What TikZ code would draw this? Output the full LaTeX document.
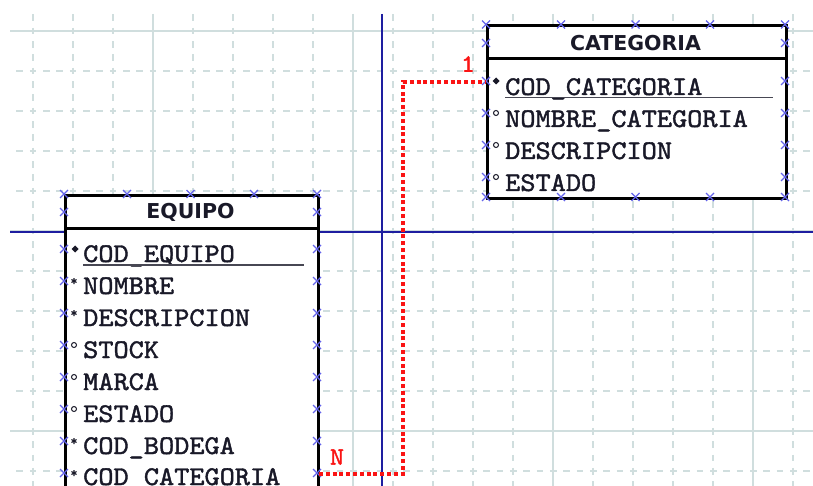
\documentclass[tikz,border=0pt]{standalone}
\usepackage{fontspec}
\newfontfamily\atrfont{lmmono10-regular.otf}[FakeStretch=1.07,FakeBold=1.5]
\newfontfamily\titfont{DejaVu Sans}
\definecolor{rejilla}{RGB}{208, 222, 222}
\definecolor{azulej}{RGB}{30, 30, 160}
\definecolor{azulx}{RGB}{100, 100, 235}
\definecolor{rojorel}{RGB}{250, 20, 20}
\definecolor{tinta}{RGB}{25, 25, 40}
\usepackage{tikz}

\begin{document}
\begin{tikzpicture}[x=1pt, y=-1pt,
    entidad/.style={draw=black, line width=3pt, fill=white, anchor=north west, inner sep=0pt},
    titulo/.style={font=\titfont\bfseries\fontsize{20.5}{22}\selectfont, text=tinta, inner sep=0pt},
    atrib/.style={font=\atrfont\fontsize{27}{29}\selectfont, text=tinta, anchor=base west, inner sep=0pt},
    card/.style={font=\atrfont\fontsize{25}{27}\selectfont, text=rojorel, inner sep=0pt},
    lineagrid/.style={rejilla, line width=1.3pt, dash pattern=on 6.67pt off 6.67pt},
    ejes/.style={azulej, line width=2pt},
    relacion/.style={rojorel, line width=4pt, dash pattern=on 4pt off 2.8pt},
    subraya/.style={tinta!80, line width=1.3pt},
    marca/.pic={\draw[azulx, line width=1.1pt] (-4,-4) -- (4,4) (-4,4) -- (4,-4);},
    llave/.pic={\fill[tinta] (-3.5,0) -- (0,-3.5) -- (3.5,0) -- (0,3.5) -- cycle;},
    oblig/.pic={\draw[tinta, line width=1.1pt] (0,-3) -- (0,3) (-2.6,-1.5) -- (2.6,1.5) (-2.6,1.5) -- (2.6,-1.5);},
    opcion/.pic={\draw[tinta, line width=1pt] (0,0) circle (2.5);}]
        \useasboundingbox (0,0) rectangle (813,486);
        \clip (0,0) rectangle (813,486);
        % rejilla
        \foreach \gx in {33,73,...,793}
          \draw[lineagrid, dash phase=13pt] (\gx,14) -- (\gx,486);
        \foreach \gy in {31,71,...,471}
          \draw[lineagrid, dash phase=7pt] (10,\gy) -- (813,\gy);
        \foreach \gx in {153,353,553,753}
          \draw[rejilla, line width=1.3pt] (\gx,14) -- (\gx,486);
        \foreach \gy in {31,231,431}
          \draw[rejilla, line width=1.3pt] (10,\gy) -- (813,\gy);
        \draw[ejes] (382,14) -- (382,486);
        \draw[ejes] (10,232) -- (813,232);
        % CATEGORIA
        \node[entidad, minimum width=299pt, minimum height=172.5pt] (categoria) at (486,24.5) {};
        \draw[black, line width=3pt] ([yshift=-34.5pt]categoria.north west) -- ([yshift=-34.5pt]categoria.north east);
        \node[titulo] (cattit) at (635.5,43) {CATEGORIA};
        \node[atrib] (cat1) at (505,95) {COD\_CATEGORIA};
        \node[atrib] (cat2) at (505,127) {NOMBRE\_CATEGORIA};
        \node[atrib] (cat3) at (505,159) {DESCRIPCION};
        \node[atrib] (cat4) at (505,191) {ESTADO};
        \draw[subraya] ([yshift=-2.5pt]cat1.base west) -- ++(268,0);
        \pic at (496,81) {llave};
        \foreach \py in {113,145,177} \pic at (496,\py) {opcion};
        % EQUIPO
        \node[entidad, minimum width=253pt, minimum height=330pt] (equipo) at (64,194) {};
        \draw[black, line width=3pt] ([yshift=-35pt]equipo.north west) -- ([yshift=-35pt]equipo.north east);
        \node[titulo] (eqtit) at (190.5,212) {EQUIPO};
        \node[atrib] (eq1) at (83,262) {COD\_EQUIPO};
        \node[atrib] (eq2) at (83,294) {NOMBRE};
        \node[atrib] (eq3) at (83,326) {DESCRIPCION};
        \node[atrib] (eq4) at (83,358) {STOCK};
        \node[atrib] (eq5) at (83,390) {MARCA};
        \node[atrib] (eq6) at (83,422) {ESTADO};
        \node[atrib] (eq7) at (83,454) {COD\_BODEGA};
        \node[atrib] (eq8) at (83,485) {COD\_CATEGORIA};
        \draw[subraya] ([yshift=-3pt]eq1.base west) -- ++(221,0);
        \pic at (75,249) {llave};
        \foreach \py in {281,313,441,473} \pic at (74,\py) {oblig};
        \foreach \py in {345,377,409} \pic at (74,\py) {opcion};
        % marcas de seleccion
        \foreach \px in {486,561,635.5,710,785} {
          \pic at (\px,24.5) {marca};
          \pic at (\px,197) {marca};
        }
        \foreach \py in {43,81,113,145,177} {
          \pic at (486,\py) {marca};
          \pic at (785,\py) {marca};
        }
        \foreach \px in {64,127,190.5,254,317}
          \pic at (\px,194) {marca};
        \foreach \py in {212,249,281,313,345,377,409,441,473} {
          \pic at (64,\py) {marca};
          \pic at (317,\py) {marca};
        }
        % relacion N:1
        \coordinate (eqfk) at (319,474);
        \coordinate (codo) at (403,82);
        \coordinate (catpk) at (486,82);
        \draw[relacion] (eqfk) -| (codo) -- (catpk);
        \node[card] (cardn) at (337,457) {N};
        \node[card] (card1) at (468,64) {1};
      \end{tikzpicture}
\end{document}
